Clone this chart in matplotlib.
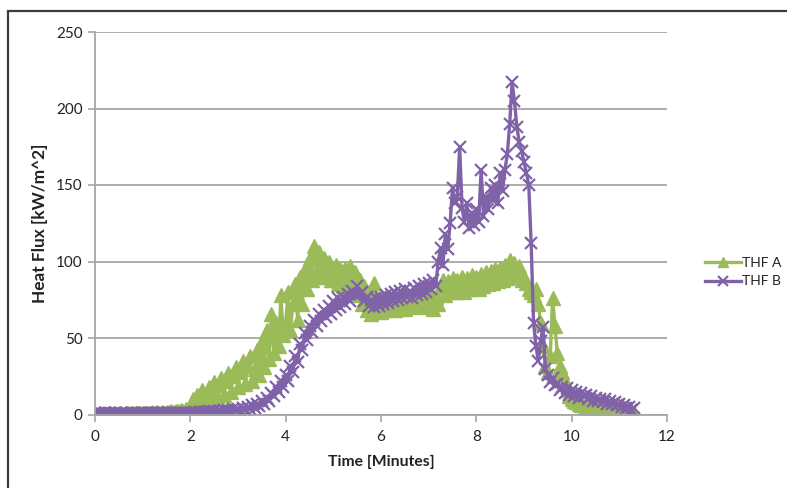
import numpy as np
import matplotlib
matplotlib.use("Agg")
import matplotlib.pyplot as plt
from matplotlib.patches import Rectangle

plt.rcParams['font.family'] = ['Lato', 'DejaVu Sans']

# sampling: one reading every 0.05 minutes, starting at 0
sample_step = 0.05

thf_a = [
    # 0.00 - 0.95
    0.5, 0.3, 0.8, 0.4, 0.6, 0.2, 0.7, 0.5, 0.9, 0.4, 0.6, 0.8, 0.5, 1.0, 0.7, 0.6, 0.9, 1.1, 0.8, 1.0,
    # 1.00 - 1.95
    1.2, 0.9, 1.3, 1.0, 1.4, 1.1, 1.5, 1.2, 1.6, 1.3, 1.8, 1.5, 2.0, 1.7, 2.4, 2.0, 3.0, 2.6, 3.5, 3.0,
    # 2.00 - 2.95
    4, 10, 5, 13, 7, 16, 8, 12, 18, 10, 21, 12, 19, 24, 13, 22, 27, 15, 25, 31,
    # 3.00 - 3.95
    18, 28, 35, 20, 32, 38, 22, 30, 42, 26, 48, 31, 55, 36, 66, 40, 60, 45, 78, 52,
    # 4.00 - 4.95
    60, 80, 55, 72, 85, 62, 90, 72, 95, 82, 102, 88, 110, 93, 106, 90, 102, 92, 100, 88,
    # 5.00 - 5.95
    88, 98, 85, 95, 84, 96, 82, 97, 85, 93, 78, 88, 72, 84, 68, 80, 66, 86, 68, 76,
    # 6.00 - 6.95
    67, 76, 68, 74, 69, 77, 68, 75, 70, 78, 69, 76, 71, 78, 70, 77, 72, 79, 71, 78,
    # 7.00 - 7.95
    70, 78, 69, 77, 72, 84, 88, 78, 87, 80, 89, 80, 88, 81, 90, 80, 89, 82, 91, 83,
    # 8.00 - 8.95
    90, 82, 92, 84, 93, 85, 94, 86, 95, 87, 96, 88, 98, 89, 101, 92, 99, 90, 97, 88,
    # 9.00 - 9.95
    90, 86, 82, 80, 78, 82, 72, 60, 45, 32, 28, 38, 76, 58, 40, 32, 28, 22, 16, 12,
    # 10.00 - 10.95
    10, 9, 8, 7, 6, 6, 5, 5, 4, 4, 3.5, 3, 3, 2.5, 2.5, 2, 2, 1.8, 1.5, 1.5,
    # 11.00 - 11.30
    1.3, 1.2, 1.0, 1.0, 0.8, 0.8, 0.7,
]

thf_b = [
    # 0.00 - 0.95
    1.0, 0.5, 1.2, 0.3, 0.8, 0.6, 1.1, 0.4, 0.9, 0.7, 0.5, 1.0, 0.6, 0.8, 0.4, 0.9, 0.7, 0.5, 0.8, 0.6,
    # 1.00 - 1.95
    0.7, 0.9, 0.5, 0.8, 1.0, 0.6, 0.9, 0.7, 1.1, 0.8, 1.0, 0.9, 1.2, 0.8, 1.1, 1.0, 1.3, 0.9, 1.2, 1.1,
    # 2.00 - 2.95
    1.3, 1.1, 1.5, 1.2, 1.6, 1.4, 1.8, 1.5, 2.0, 1.7, 2.2, 1.9, 2.5, 2.1, 2.7, 2.4, 3.0, 2.6, 3.3, 3.0,
    # 3.00 - 3.95
    3.5, 2.5, 4.5, 3.0, 5.0, 3.5, 6.0, 4.0, 7.0, 5.5, 8.5, 7.0, 11, 9, 14, 12, 18, 15, 22, 18,
    # 4.00 - 4.95
    26, 22, 32, 28, 38, 34, 46, 42, 53, 49, 58, 54, 62, 58, 66, 61, 68, 64, 71, 66,
    # 5.00 - 5.95
    74, 68, 76, 70, 77, 72, 79, 74, 81, 78, 84, 79, 80, 74, 77, 71, 75, 70, 76, 71,
    # 6.00 - 6.95
    77, 72, 78, 73, 79, 74, 80, 75, 81, 76, 82, 77, 81, 76, 83, 78, 84, 79, 85, 80,
    # 7.00 - 7.95
    86, 82, 88, 84, 100, 109, 98, 118, 108, 125, 148, 138, 142, 175, 135, 126, 138, 122, 132, 124,
    # 8.00 - 8.95
    134, 126, 160, 130, 142, 134, 148, 140, 150, 138, 158, 146, 160, 170, 190, 217, 205, 188, 178, 172,
    # 9.00 - 9.95
    165, 158, 150, 112, 60, 45, 35, 48, 57, 30, 26, 21, 24, 19, 20, 16, 18, 14, 17, 13,
    # 10.00 - 10.95
    16, 12, 15, 11, 14, 12, 13, 10, 12, 9, 11, 9, 10, 8, 10, 7, 9, 7, 8, 6,
    # 11.00 - 11.30
    7, 5, 6, 4, 5, 3, 4,
]

time_min = np.round(np.arange(len(thf_a)) * sample_step, 2)

x_ticks = [0, 2, 4, 6, 8, 10, 12]
y_ticks = [0, 50, 100, 150, 200, 250]

green = '#9BBB59'
purple = '#7F62A8'
grid_c = '#A6A6A6'

W, H = 787, 488
fig = plt.figure(figsize=(W / 100, H / 100), dpi=100)
ax = fig.add_axes([95 / W, 1 - 414.5 / H, (667 - 95) / W, (414.5 - 32) / H])

ax.plot(time_min, thf_a, color=green, lw=2.4, marker='^', ms=9.5, mec=green, mfc=green, label='THF A')
ax.plot(time_min, thf_b, color=purple, lw=2.4, marker='x', ms=9, mew=1.6, mec=purple, label='THF B')

ax.set_xlim(0, 12)
ax.set_ylim(0, 250)
ax.set_xticks(x_ticks)
ax.set_yticks(y_ticks)
ax.yaxis.grid(True, color=grid_c, lw=1.3)
ax.set_axisbelow(True)
for s in ['top', 'right']:
    ax.spines[s].set_visible(False)
for s in ['left', 'bottom']:
    ax.spines[s].set_color(grid_c)
    ax.spines[s].set_linewidth(1.3)
ax.tick_params(axis='both', colors=grid_c, length=5, width=1.2, labelcolor='#222222', labelsize=11)
ax.tick_params(axis='x', pad=6)
ax.tick_params(axis='y', pad=4)

ax.set_xlabel('Time [Minutes]', fontsize=11.3, fontweight='bold', color='#222222', labelpad=8)
ax.set_ylabel('Heat Flux [kW/m^2]', fontsize=12.4, fontweight='bold', color='#222222', labelpad=6)

leg = fig.legend(loc='center left', bbox_to_anchor=(692 / W, 1 - 272 / H), frameon=False,
                 fontsize=10, handlelength=2.6, handletextpad=0.1, labelspacing=0.5,
                 markerscale=0.8)
for t in leg.get_texts():
    t.set_color('#222222')

fig.patches.append(Rectangle((8 / W, -0.05), 1.2, 1.05 - 11 / H, transform=fig.transFigure,
                             fill=False, edgecolor='#3C3C3C', lw=1.6, clip_on=False))

fig.savefig('out.png', dpi=100)
